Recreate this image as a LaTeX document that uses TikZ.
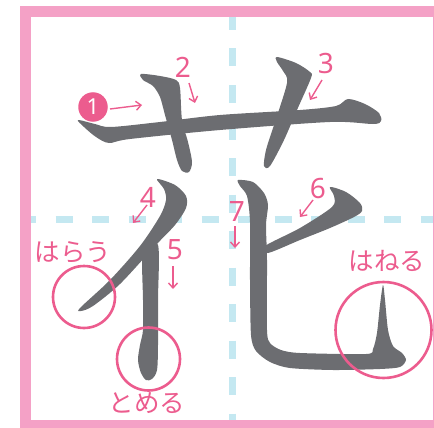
\documentclass[tikz,border=0pt]{standalone}
\usepackage{fontspec}
\newfontfamily\jpfont{Noto Sans CJK JP}
\newfontfamily\numfont{Noto Sans}
\usetikzlibrary{arrows.meta}
\definecolor{framec}{RGB}{244,161,198}
\definecolor{guidec}{RGB}{196,232,241}
\definecolor{inkc}{RGB}{108,109,113}
\definecolor{pinkc}{RGB}{236,92,142}
\tikzset{
  strokeshape/.style={fill=inkc, draw=none},
  guideline/.style={guidec, line width=7pt},
  markcircle/.style={draw=pinkc, line width=2.6pt, circle, inner sep=0pt},
  kana/.style={pinkc, font=\jpfont\fontsize{25.5}{25.5}\selectfont, inner sep=0pt},
  numlabel/.style={pinkc, font=\numfont\fontsize{28}{28}\selectfont, inner sep=0pt},
  orderarrow/.style={pinkc, line width=1.4pt, -{Straight Barb[length=5pt,width=9pt,line width=1.4pt]}},
}
\begin{document}
\begin{tikzpicture}[x=1pt,y=-1pt]
\useasboundingbox (0,0) rectangle (434,428);
\clip (0,0) rectangle (434,428);
% guide lines
\draw[guideline, dash pattern=on 17pt off 19.5pt, dash phase=1pt] (20,219.5) -- (434,219.5);
\draw[guideline, dash pattern=on 18pt off 18.5pt] (232.5,12) -- (232.5,428);
% frame
\draw[framec, line width=11pt] (25.5,11.5) rectangle (438.5,425.5);
% stroke 1
\fill[strokeshape] plot[smooth cycle, tension=0.5] coordinates {
 (78,120) (95,124) (111,127) (160,122) (220,115) (300,110) (336,106) (348,99) (365,104) (379,113) (381,121) (373,124) (330,122) (220,130) (130,139) (109,143) (96,137) (84,127)};
% stroke 2
\fill[strokeshape] plot[smooth cycle, tension=0.5] coordinates {
 (141,74) (160,76) (176,80) (180,88) (182,120) (188,142) (192,162) (189,172) (182,171) (177,160) (172,140) (165,115) (160,97) (153,86) (143,80)};
% stroke 3
\fill[strokeshape] plot[smooth cycle, tension=0.5] coordinates {
 (277,57) (296,63) (310,72) (311,78) (297,110) (284,140) (270,166) (264,166) (266,150) (274,125) (287,83) (283,71) (277,62)};
% stroke 4
\fill[strokeshape] plot[smooth cycle, tension=0.5] coordinates {
 (157,179) (175,185) (186,196) (186,208) (175,225) (155,246) (120,284) (93,306) (81,311) (80,308) (110,280) (140,246) (160,216) (166,200) (164,189)};
% stroke 5
\fill[strokeshape] plot[smooth cycle, tension=0.5] coordinates {
 (143,250) (158,245) (158,300) (158,345) (157,370) (152,379) (146,380) (141,373) (138,360) (140,345) (143,330) (143,300)};
% stroke 6
\fill[strokeshape] plot[smooth cycle, tension=0.5] coordinates {
 (330,187) (346,192) (360,203) (362,211) (354,217) (330,228) (300,240) (268,253) (265,246) (300,228) (332,207) (334,196)};
% stroke 7
\fill[strokeshape] plot[smooth cycle, tension=0.45] coordinates {
 (238,180) (253,182) (264,193) (268,205) (266,225) (267,260) (267,330) (270,343) (281,350) (300,353) (366,354) (373,349) (377,333) (380,305) (383,285) (385,300) (388,330) (393,346) (402,353) (406,360) (400,367) (380,369) (333,370) (290,368) (270,362) (256,351) (251,335) (250,280) (250,222) (247,196) (240,186)};
% circles
\node[markcircle, minimum size=62pt] (harau) at (84,297) {};
\node[markcircle, minimum size=63pt] (tomeru) at (148.5,359) {};
\node[markcircle, minimum size=96pt] (haneru) at (383.5,330) {};
% kana labels
\node[kana] (tharau) at (73,252) {はらう};
\node[kana] (ttomeru) at (147,403) {とめる};
\node[kana] (thaneru) at (387,261) {はねる};
% number 1 badge
\node[circle, fill=pinkc, minimum size=29.5pt, inner sep=0pt, text=white, font=\numfont\fontsize{22}{22}\selectfont] (n1) at (93,107) {1};
% numbers
\node[numlabel] (n2) at (183,67) {2};
\node[numlabel] (n3) at (326,64) {3};
\node[numlabel] (n4) at (148,197) {4};
\node[numlabel] (n5) at (175,250) {5};
\node[numlabel] (n6) at (318,189) {6};
\node[numlabel] (n7) at (237,212) {7};
% arrow ends
\coordinate (a1s) at (110,109); \coordinate (a1e) at (142,105);
\coordinate (a2s) at (189,83);  \coordinate (a2e) at (195,103);
\coordinate (a3s) at (322,80);  \coordinate (a3e) at (310,100);
\coordinate (a4s) at (147,205); \coordinate (a4e) at (133,223);
\coordinate (a5s) at (173,266); \coordinate (a5e) at (173,289);
\coordinate (a6s) at (313,200); \coordinate (a6e) at (300,217);
\coordinate (a7s) at (235,226); \coordinate (a7e) at (235,248);
\draw[orderarrow] (a1s) -- (a1e);
\draw[orderarrow] (a2s) -- (a2e);
\draw[orderarrow] (a3s) -- (a3e);
\draw[orderarrow] (a4s) -- (a4e);
\draw[orderarrow] (a5s) -- (a5e);
\draw[orderarrow] (a6s) -- (a6e);
\draw[orderarrow] (a7s) -- (a7e);
\end{tikzpicture}
\end{document}
